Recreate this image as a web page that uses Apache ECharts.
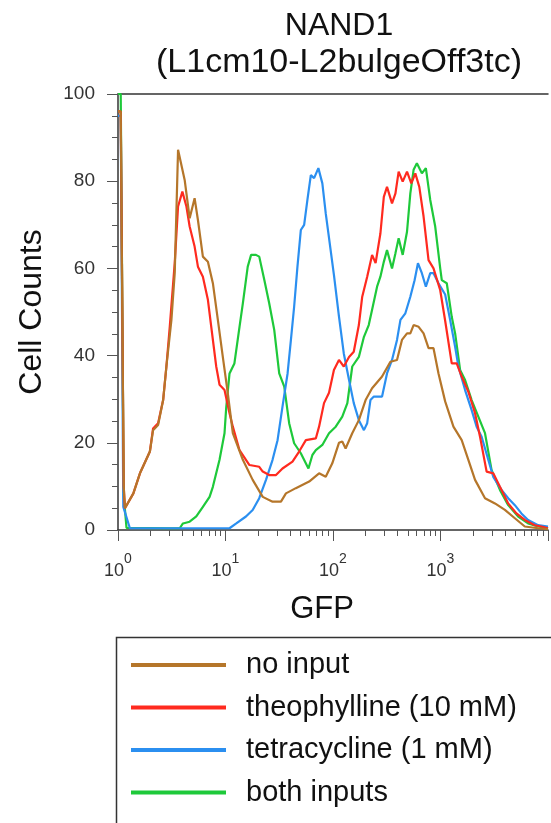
<!DOCTYPE html>
<html>
<head>
<meta charset="utf-8">
<script src="https://cdn.jsdelivr.net/npm/echarts@6/dist/echarts.min.js"></script>
<style>
html,body{margin:0;padding:0;background:#fff;}
#chart{width:551px;height:823px;}
</style>
</head>
<body>
<div id="chart"></div>
<script>
// ---- Data (GFP on log scale, cell counts) ----
var seriesNames = ['no input', 'theophylline (10 mM)', 'tetracycline (1 mM)', 'both inputs'];
var seriesColors = ['#b5762a', '#ff2a1f', '#2b8ff0', '#1ec93a'];

var noInputGFP = [1, 1.06, 1.13, 1.16, 1.39, 1.6, 1.98, 2.12, 2.36, 2.63, 2.82, 3.14, 3.37, 3.62, 4.17, 4.64, 5.16, 5.54, 6.16, 6.86, 7.63, 8.49, 9.44, 10.5, 11.7, 14.5, 17.9, 22.2, 27.4, 32.8, 36.5, 45.1, 60, 74.2, 85.6, 98.5, 113.6, 122, 131, 151, 174, 201, 231, 286, 342, 394, 438, 488, 524, 562, 626, 696, 774, 861, 958, 1105, 1319, 1575, 1816, 2096, 2594, 3211, 3972, 4918, 6085, 8080, 10000];
var noInputCounts = [96, 96, 10, 5, 8.4, 13, 18, 22.9, 24.1, 29.8, 37.5, 48.2, 58.9, 87.2, 80.3, 71.5, 76.1, 71.1, 62.7, 61.5, 56.6, 48.2, 39.7, 31.4, 22.2, 16.1, 11.5, 7.6, 6.5, 6.5, 8.4, 9.6, 11.1, 13, 12.2, 15.3, 20, 20.3, 18.7, 22.2, 25.2, 29.8, 32.5, 35.2, 38.6, 39, 43.6, 45.1, 45.1, 47, 46.6, 45.1, 41.7, 41.7, 35.9, 29.5, 23.7, 20.6, 16.1, 11.5, 7.3, 6.1, 4.6, 2.7, 0.8, 0.4, 0.2];

var theoGFP = [1, 1.06, 1.13, 1.16, 1.39, 1.6, 1.98, 2.12, 2.36, 2.63, 2.82, 3.03, 3.37, 3.62, 3.97, 4.33, 4.64, 5.16, 5.54, 6.16, 6.86, 7.37, 8.2, 8.8, 9.79, 10.9, 11.7, 13.5, 16.7, 20.6, 22.2, 25.5, 29.5, 33.9, 42, 48.4, 55.9, 69.2, 74.2, 82.5, 91.8, 102, 113.6, 126, 141, 156, 174, 187, 208, 231, 249, 276, 297, 318, 354, 381, 408, 445, 488, 535, 583, 635, 696, 774, 861, 994, 1105, 1272, 1415, 1575, 1816, 2096, 2332, 2684, 3095, 3571, 4263, 5088, 6085, 7534, 8670, 10000];
var theoCounts = [96, 96, 10, 5, 8.4, 13, 18, 23.3, 24.5, 29.8, 37.5, 46.6, 61.2, 74.2, 77.6, 74.2, 69.6, 65, 60.4, 58.1, 52.8, 46.6, 37.5, 33.3, 32.1, 26.8, 23.7, 18.3, 14.9, 14.5, 13.4, 12.6, 12.6, 14.1, 15.7, 18, 20.6, 21, 23.7, 29.1, 31.5, 36.7, 39, 37.5, 39.7, 40.9, 47, 53.5, 58.1, 63.1, 61.2, 68, 76.4, 78.7, 74.9, 77.2, 82.2, 79.9, 82.2, 79.5, 81.8, 78.7, 71.9, 61.9, 60, 55, 48, 38.2, 38.2, 35.2, 31.7, 26.8, 21.4, 13.4, 13, 9.9, 6.1, 3.8, 2.3, 1.1, 0.8, 0.4];

var tetraGFP = [1, 1.06, 1.12, 1.29, 10.9, 12.6, 15.5, 17.9, 20.6, 23.8, 27.4, 30.5, 33.9, 37.8, 40.6, 43.5, 46.7, 50.2, 53.9, 57.8, 62.2, 66.7, 73.1, 79.6, 85.6, 91.8, 102, 113.6, 126, 141, 156, 174, 194, 208, 223, 240, 286, 318, 354, 394, 424, 471, 524, 574, 617, 671, 731, 803, 861, 958, 1105, 1229, 1368, 1468, 1693, 1949, 2168, 2413, 2782, 3095, 3695, 4263, 4918, 5657, 6528, 8080, 10000];
var tetraCounts = [95, 95, 5.3, 0.4, 0.4, 1.5, 3.1, 4.6, 7.3, 11.5, 16.1, 20.6, 28.3, 35.9, 43.6, 51.2, 60.4, 68.8, 70, 75.7, 81.4, 80.7, 83, 79.5, 72.6, 67, 58.5, 49, 40.5, 34.4, 29.1, 25.2, 22.9, 24.5, 29.8, 30.6, 30.6, 35.9, 39, 43.6, 48.2, 49.7, 53.5, 57.3, 61.2, 58.9, 55.8, 58.9, 58.9, 56.6, 54, 48.2, 42, 37.5, 32.1, 27.5, 23.7, 21.4, 16.1, 12.2, 9.2, 7.3, 5.7, 3.8, 2.3, 1.1, 0.8];

var bothGFP = [1, 1.06, 1.13, 1.2, 2.92, 3.75, 4.02, 4.64, 5.35, 6.16, 7.11, 7.63, 8.8, 9.79, 10.15, 10.9, 12.1, 13.5, 14.5, 16.1, 17.3, 19.2, 20.6, 23, 25.5, 28.4, 31.6, 35.2, 39.1, 43.5, 50.2, 59.1, 64.3, 69.2, 79.6, 91.8, 106, 122, 136, 151, 174, 194, 215, 231, 257, 276, 297, 318, 354, 381, 408, 445, 488, 524, 562, 603, 671, 731, 803, 893, 994, 1028, 1144, 1272, 1368, 1522, 1693, 1949, 2248, 2594, 2985, 3571, 4263, 5275, 6528, 8080, 10000];
var bothCounts = [100, 100, 8, 0.5, 0.4, 0.4, 1.5, 1.9, 3.1, 5.3, 7.6, 9.9, 16.1, 22.2, 28, 35.9, 38.2, 46.6, 52, 60.4, 63.1, 63.1, 62.7, 57.3, 52, 45.9, 35.9, 32.9, 24.5, 19.9, 17.6, 14.1, 17.2, 18.3, 19.5, 22.2, 23.7, 26, 29.1, 37.5, 39.7, 44.3, 47, 50.5, 55.8, 58.1, 61.5, 64.2, 60, 63.5, 66.9, 63.1, 68.4, 77.2, 82.6, 84.1, 81.8, 83, 75.7, 69.6, 60, 57.3, 56.6, 48.9, 45.1, 36.7, 34.4, 29.8, 26, 22.2, 13.8, 9.2, 5.7, 3.1, 1.5, 0.8, 0.4];

var yTicks = [0, 20, 40, 60, 80, 100];
var xDecades = [1, 10, 100, 1000];

function pairs(xs, ys) { return xs.map(function (x, i) { return [x, ys[i]]; }); }
var allX = [noInputGFP, theoGFP, tetraGFP, bothGFP];
var allY = [noInputCounts, theoCounts, tetraCounts, bothCounts];
var zOrder = [6, 5, 4, 3];

var FONT = 'Liberation Sans, Arial, sans-serif';
var chart = echarts.init(document.getElementById('chart'), null, { renderer: 'canvas' });

var series = seriesNames.map(function (n, i) {
  return {
    name: n, type: 'line', data: pairs(allX[i], allY[i]),
    showSymbol: false, symbol: 'none', z: zOrder[i],
    lineStyle: { color: seriesColors[i], width: 2.2 },
    itemStyle: { color: seriesColors[i] },
    clip: true, animation: false
  };
});

var option = {
  animation: false,
  backgroundColor: '#fff',
  title: {
    text: '{a|NAND1}\n{b|(L1cm10-L2bulgeOff3tc)}',
    left: 334, top: 2, textAlign: 'center',
    textStyle: {
      fontFamily: FONT, fontWeight: 'normal', color: '#111',
      rich: {
        a: { fontFamily: FONT, fontSize: 32, color: '#111', lineHeight: 38 },
        b: { fontFamily: FONT, fontSize: 34, color: '#111', lineHeight: 36 }
      }
    }
  },
  graphic: [{
    type: 'rect', left: 114, top: 635, z: 0,
    shape: { width: 500, height: 260 },
    style: { fill: 'none', stroke: '#333', lineWidth: 1.5 }
  }],
  grid: { left: 118, right: 1, top: 94, bottom: 293, containLabel: false },
  legend: {
    orient: 'vertical', left: 115, top: 636,
    data: seriesNames,
    icon: 'rect', itemWidth: 95, itemHeight: 4, itemGap: 12.5,
    padding: [14, 10, 2, 16],
    textStyle: { fontFamily: FONT, fontSize: 29, color: '#111', lineHeight: 30, padding: [0, 0, 0, 15] },
    selectedMode: false
  },
  xAxis: [{
    type: 'log', logBase: 10, min: 1, max: 10000, splitNumber: 4,
    name: 'GFP', nameLocation: 'middle', nameGap: 64,
    nameTextStyle: { fontFamily: FONT, fontSize: 31, color: '#111', padding: [0, 22, 0, 0] },
    axisLine: { show: true, lineStyle: { color: '#333', width: 1.5 } },
    axisTick: { show: true, inside: false, length: 11, lineStyle: { color: '#555', width: 1 } },
    minorTick: { show: true, splitNumber: 9, length: 6, lineStyle: { color: '#555', width: 1 } },
    splitLine: { show: false },
    axisLabel: {
      margin: 22,
      formatter: function (v) {
        var e = Math.round(Math.log10(v));
        if (xDecades.indexOf(Math.pow(10, e)) < 0) return '';
        return '{b|10}{s|' + e + '}';
      },
      rich: {
        b: { fontFamily: FONT, fontSize: 18, color: '#333', lineHeight: 28, verticalAlign: 'bottom' },
        s: { fontFamily: FONT, fontSize: 14, color: '#333', lineHeight: 14, verticalAlign: 'top' }
      }
    }
  }, {
    type: 'log', logBase: 10, min: 1, max: 10000, position: 'top',
    axisLine: { show: true, lineStyle: { color: '#333', width: 1.5 } },
    axisTick: { show: false }, axisLabel: { show: false }, splitLine: { show: false }
  }],
  yAxis: {
    type: 'value', min: 0, max: 100, interval: 20,
    name: 'Cell Counts', nameLocation: 'middle', nameGap: 70, nameRotate: 90,
    nameTextStyle: { fontFamily: FONT, fontSize: 32, color: '#111' },
    axisLine: { show: true, lineStyle: { color: '#333', width: 1.5 } },
    axisTick: { show: true, inside: false, length: 11, lineStyle: { color: '#555', width: 1 } },
    minorTick: { show: true, splitNumber: 4, length: 6, lineStyle: { color: '#555', width: 1 } },
    splitLine: { show: false },
    axisLabel: {
      margin: 23, fontFamily: FONT, fontSize: 19, color: '#333',
      formatter: function (v) { return yTicks.indexOf(v) >= 0 ? String(v) : ''; }
    }
  },
  series: series
};
chart.setOption(option);
</script>
</body>
</html>
